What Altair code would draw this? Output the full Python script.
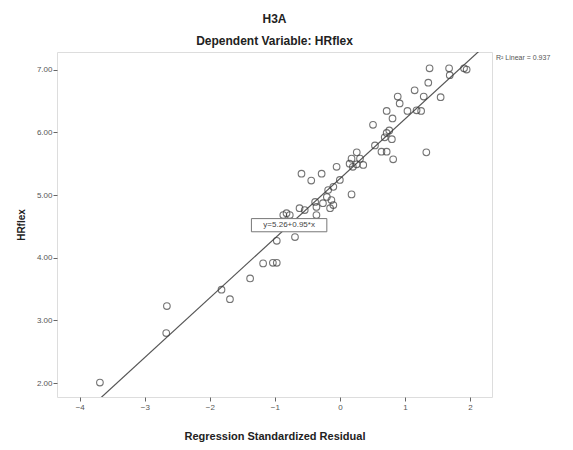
import altair as alt
import pandas as pd
import numpy as np

# Scatter values
resid = [1.38, 1.68, 1.91, 1.95, 1.69, 1.36, 1.15, 0.89, 1.29, 1.55,
         0.92, 0.72, 1.04, 1.18, 1.25, 0.81, 0.51, 0.76, 0.72, 0.69,
         0.80, 0.54, 1.33, 0.64, 0.72, 0.82, 0.26, 0.18, 0.31, 0.15,
         0.26, 0.36, 0.20, -0.05, -0.59, -0.44, -0.28, 0.18, 0.00, -0.10,
         -0.18, -0.20, -0.13, -0.10, -0.15, -0.26, -0.38, -0.36, -0.62, -0.54,
         -0.82, -0.77, -0.36, -0.87, -0.69, -0.97, -1.18, -1.03, -0.97, -1.38,
         -1.82, -1.69, -2.66, -2.67, -3.69]
hrflex = [7.02, 7.02, 7.02, 7.00, 6.91, 6.79, 6.67, 6.57, 6.57, 6.56,
          6.46, 6.34, 6.34, 6.35, 6.34, 6.22, 6.12, 6.03, 5.99, 5.92,
          5.89, 5.79, 5.68, 5.69, 5.69, 5.57, 5.68, 5.58, 5.58, 5.50,
          5.49, 5.48, 5.45, 5.45, 5.34, 5.23, 5.34, 5.01, 5.24, 5.13,
          5.08, 4.97, 4.92, 4.84, 4.79, 4.87, 4.89, 4.81, 4.79, 4.76,
          4.71, 4.68, 4.68, 4.68, 4.33, 4.27, 3.91, 3.92, 3.92, 3.67,
          3.49, 3.34, 3.23, 2.80, 2.01]

intercept = 5.26
slope = 0.95
r2_text = "R\u00b2 Linear = 0.937"
eq_text = "y=5.26+0.95*x"
eq_x = -0.78

x_domain = [-4.35, 2.34]
y_domain = [1.78, 7.28]
x_ticks = [-4, -3, -2, -1, 0, 1, 2]
y_ticks = [2, 3, 4, 5, 6, 7]

FONT = "Liberation Sans"

pts = pd.DataFrame({"x": resid, "y": hrflex})
fit = pd.DataFrame({"x": x_domain})
fit["y"] = intercept + slope * fit["x"]
eq_y = intercept + slope * eq_x
half_w, half_h = 0.58, 0.105
box = pd.DataFrame({"x": [eq_x - half_w], "x2": [eq_x + half_w],
                    "y": [eq_y - half_h], "y2": [eq_y + half_h],
                    "xc": [eq_x], "yc": [eq_y], "t": [eq_text]})

xs = alt.Scale(domain=x_domain, nice=False, zero=False)
ys = alt.Scale(domain=y_domain, nice=False, zero=False)

xax = alt.Axis(values=x_ticks, format="d", title="Regression Standardized Residual",
               domain=False, grid=False, tickSize=4, tickColor="#666",
               labelFontSize=8, labelColor="#555", labelFont=FONT, labelPadding=2,
               titleFont=FONT, titleFontSize=11, titleFontWeight="bold",
               titleColor="#222", titlePadding=19)
yax = alt.Axis(values=y_ticks, format=".2f", title="HRflex",
               domain=False, grid=False, tickSize=4, tickColor="#666",
               labelFontSize=8, labelColor="#555", labelFont=FONT, labelPadding=1,
               titleFont=FONT, titleFontSize=10, titleFontWeight="bold",
               titleColor="#222", titlePadding=10)

line = alt.Chart(fit).mark_line(color="#555", strokeWidth=1.2, clip=True).encode(
    x=alt.X("x:Q", scale=xs, axis=xax),
    y=alt.Y("y:Q", scale=ys, axis=yax),
)

points = alt.Chart(pts).mark_point(shape="circle", filled=False, size=44,
                                   stroke="#3a3a3a", strokeWidth=1.1).encode(
    x=alt.X("x:Q", scale=xs),
    y=alt.Y("y:Q", scale=ys),
)

rect = alt.Chart(box).mark_rect(fill="white", stroke="#777", strokeWidth=1).encode(
    x=alt.X("x:Q", scale=xs), x2="x2:Q",
    y=alt.Y("y:Q", scale=ys), y2="y2:Q",
)
eq = alt.Chart(box).mark_text(font=FONT, fontSize=8, color="#444").encode(
    x=alt.X("xc:Q", scale=xs), y=alt.Y("yc:Q", scale=ys), text="t:N"
)

r2 = alt.Chart(pd.DataFrame({"t": [r2_text]})).mark_text(
    font=FONT, fontSize=7, color="#555", align="left", baseline="middle", clip=False
).encode(x=alt.value(439), y=alt.value(6), text="t:N")

chart = alt.layer(line, points, rect, eq, r2).properties(
    width=435, height=345,
    padding={"left": 49, "top": 44, "right": 73, "bottom": 52},
    autosize=alt.AutoSizeParams(type="none"),
    title=alt.TitleParams("H3A", subtitle="Dependent Variable: HRflex",
                          font=FONT, fontSize=12, fontWeight="bold", color="#222",
                          subtitleFont=FONT, subtitleFontSize=12,
                          subtitleFontWeight="bold", subtitleColor="#222",
                          subtitlePadding=10, offset=4, anchor="middle"),
).configure_view(fill="#efefef", stroke="#a0a0a0", strokeWidth=2
).configure(background="white")

chart.save("out.html", embed_options={"renderer": "svg", "actions": False})
